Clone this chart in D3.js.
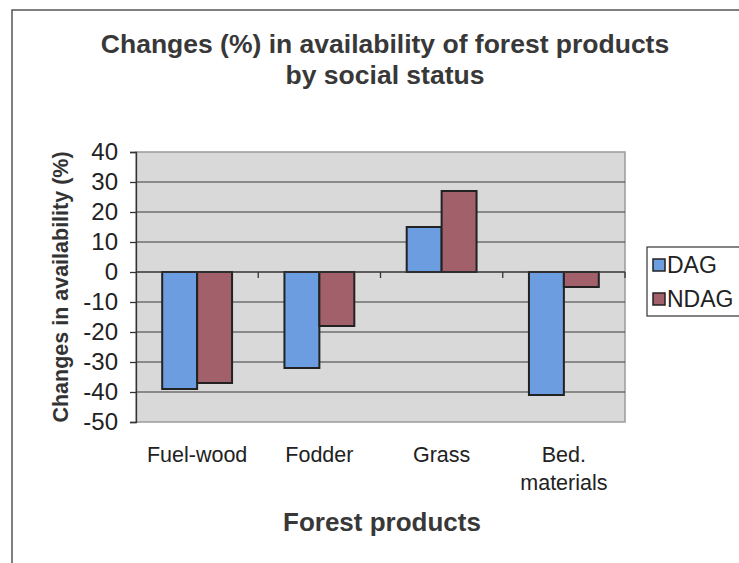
<!DOCTYPE html>
<html>
<head>
<meta charset="utf-8">
<script src="https://cdn.jsdelivr.net/npm/d3@7"></script>
<style>
  html, body { margin: 0; padding: 0; background: #ffffff; }
  svg { display: block; font-family: "Liberation Sans", Arial, Helvetica, sans-serif; }
</style>
</head>
<body>
<svg id="chart" width="739" height="563"></svg>
<script>
// Forest products and the change (%) in their availability, by social status
const categories = ["Fuel-wood", "Fodder", "Grass", "Bed. materials"];
const categoryLines = [["Fuel-wood"], ["Fodder"], ["Grass"], ["Bed.", "materials"]];
const seriesNames = ["DAG", "NDAG"];
const dagValues = [-39, -32, 15, -41];
const ndagValues = [-37, -18, 27, -5];
const yTicks = [40, 30, 20, 10, 0, -10, -20, -30, -40, -50];

const colors = { DAG: "#6c9de0", NDAG: "#a2606b" };

const svg = d3.select("#chart");

// outer frame
svg.append("rect")
  .attr("x", 12).attr("y", 10)
  .attr("width", 740).attr("height", 570)
  .attr("fill", "none").attr("stroke", "#555").attr("stroke-width", 1.5);

const plot = { left: 136, right: 625, top: 152, bottom: 422 };

const x0 = d3.scaleBand().domain(categories).range([plot.left, plot.right]).padding(0);
const x1 = d3.scaleBand().domain(seriesNames).range([0, x0.bandwidth()])
  .paddingInner(0).paddingOuter(0.75);
const y = d3.scaleLinear().domain([-50, 40]).range([plot.bottom, plot.top]);

// plot background
svg.append("rect")
  .attr("x", plot.left).attr("y", plot.top)
  .attr("width", plot.right - plot.left).attr("height", plot.bottom - plot.top)
  .attr("fill", "#d9d9d9").attr("stroke", "#9a9a9a").attr("stroke-width", 1.5);

// horizontal gridlines
svg.append("g")
  .selectAll("line")
  .data(yTicks.filter(t => t !== 40 && t !== -50 && t !== 0))
  .join("line")
  .attr("x1", plot.left).attr("x2", plot.right)
  .attr("y1", d => y(d)).attr("y2", d => y(d))
  .attr("stroke", "#3a3a3a").attr("stroke-width", 1.2);

// y axis
const yAxis = svg.append("g")
  .attr("transform", `translate(${plot.left},0)`)
  .call(d3.axisLeft(y).tickValues(yTicks).tickSize(6).tickPadding(12).tickFormat(d => String(d)));
yAxis.select(".domain").attr("stroke", "#333").attr("stroke-width", 1.3);
yAxis.selectAll(".tick line").attr("stroke", "#333").attr("stroke-width", 1.3);
yAxis.selectAll(".tick text")
  .attr("font-size", 24).attr("fill", "#222")
  .attr("font-family", "'Liberation Sans', Arial, sans-serif");

// bars
const seriesValues = { DAG: dagValues, NDAG: ndagValues };
const groups = svg.append("g")
  .selectAll("g")
  .data(categories)
  .join("g")
  .attr("transform", d => `translate(${x0(d)},0)`);

groups.selectAll("rect")
  .data((c, i) => seriesNames.map(s => ({ s, v: seriesValues[s][i] })))
  .join("rect")
  .attr("x", d => x1(d.s))
  .attr("width", x1.bandwidth())
  .attr("y", d => y(Math.max(0, d.v)))
  .attr("height", d => Math.abs(y(d.v) - y(0)))
  .attr("fill", d => colors[d.s])
  .attr("stroke", "#222").attr("stroke-width", 2);

// x axis at zero, with ticks between categories
const xAxis = svg.append("g")
  .attr("transform", `translate(0,${y(0)})`);
xAxis.append("line")
  .attr("x1", plot.left).attr("x2", plot.right)
  .attr("stroke", "#333").attr("stroke-width", 1.3);
xAxis.selectAll("line.tick")
  .data(categories.slice(1).concat(["end"]))
  .join("line")
  .attr("class", "tick")
  .attr("x1", d => d === "end" ? plot.right : x0(d))
  .attr("x2", d => d === "end" ? plot.right : x0(d))
  .attr("y1", 0).attr("y2", 6)
  .attr("stroke", "#333").attr("stroke-width", 1.3);

// category labels below the plot
const catLabels = svg.append("g");
categories.forEach((c, i) => {
  const t = catLabels.append("text")
    .attr("x", x0(c) + x0.bandwidth() / 2)
    .attr("y", 462)
    .attr("text-anchor", "middle")
    .attr("font-size", 21.5).attr("fill", "#222");
  categoryLines[i].forEach((line, j) => {
    t.append("tspan").attr("x", x0(c) + x0.bandwidth() / 2).attr("dy", j === 0 ? 0 : 28).text(line);
  });
});

// titles
svg.append("text")
  .attr("x", 385).attr("y", 53)
  .attr("text-anchor", "middle")
  .attr("font-size", 26.5).attr("font-weight", "bold").attr("fill", "#383838")
  .text("Changes (%) in availability of forest products");
svg.append("text")
  .attr("x", 385).attr("y", 84)
  .attr("text-anchor", "middle")
  .attr("font-size", 26.5).attr("font-weight", "bold").attr("fill", "#383838")
  .text("by social status");

svg.append("text")
  .attr("x", 382).attr("y", 531)
  .attr("text-anchor", "middle")
  .attr("font-size", 26).attr("font-weight", "bold").attr("fill", "#383838")
  .text("Forest products");

svg.append("text")
  .attr("transform", `translate(68,${(plot.top + plot.bottom) / 2}) rotate(-90)`)
  .attr("text-anchor", "middle")
  .attr("font-size", 21.5).attr("font-weight", "bold").attr("fill", "#333")
  .text("Changes in availability  (%)");

// legend
const legend = svg.append("g");
legend.append("rect")
  .attr("x", 647).attr("y", 247).attr("width", 100).attr("height", 69)
  .attr("fill", "#fff").attr("stroke", "#333").attr("stroke-width", 1.2);
seriesNames.forEach((s, i) => {
  const ly = 259 + i * 34;
  legend.append("rect")
    .attr("x", 653).attr("y", ly).attr("width", 12).attr("height", 12)
    .attr("fill", colors[s]).attr("stroke", "#222").attr("stroke-width", 1.5);
  legend.append("text")
    .attr("x", 667).attr("y", ly + 14)
    .attr("font-size", 23).attr("fill", "#222")
    .text(s);
});
</script>
</body>
</html>
